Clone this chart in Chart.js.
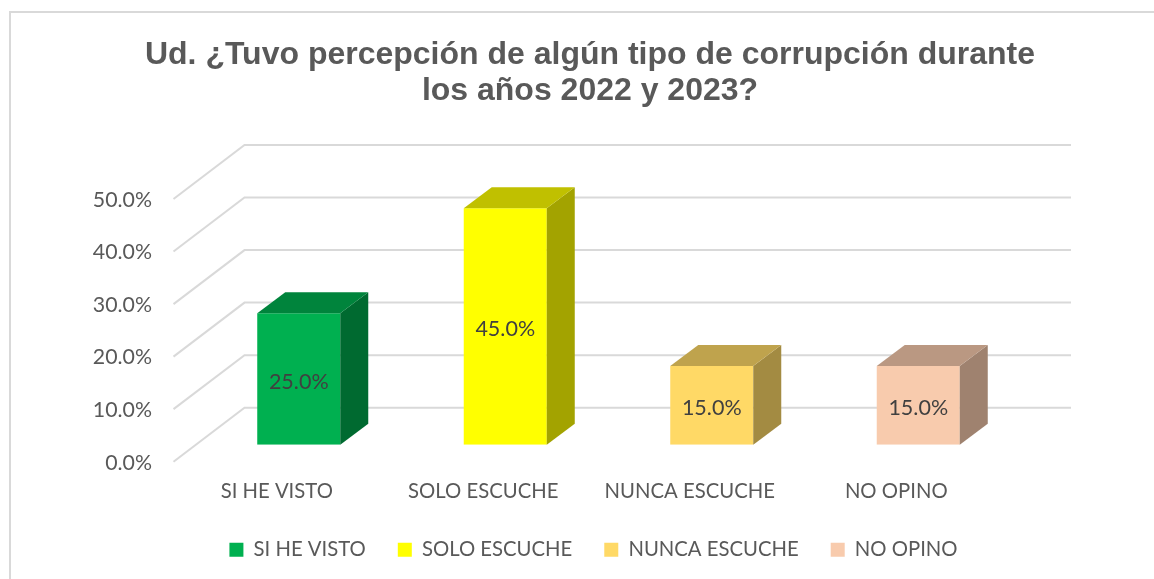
<!DOCTYPE html>
<html>
<head>
<meta charset="utf-8">
<title>Corrupción</title>
<script src="https://cdn.jsdelivr.net/npm/chart.js@4"></script>
<style>
  html, body { margin: 0; padding: 0; background: #fff; overflow: hidden; }
  #wrap { position: relative; width: 1154px; height: 579px; }
</style>
</head>
<body>
<div id="wrap"><canvas id="myChart" width="1154" height="579"></canvas></div>
<script>
const categories = ["SI HE VISTO", "SOLO ESCUCHE", "NUNCA ESCUCHE", "NO OPINO"];
const values = [25, 45, 15, 15];
const titleLines = ["Ud. ¿Tuvo percepción de algún tipo de corrupción durante", "los años 2022 y 2023?"];

const frontColors = ["#00B050", "#FFFF00", "#FFD966", "#F8CBAD"];
const topColors = ["#00843C", "#C0C000", "#BFA34D", "#BA9882"];
const sideColors = ["#006A30", "#A3A300", "#A38B42", "#9F826F"];

const textColor = "#595959";
const gridColor = "#D9D9D9";
const labelFont = "Lato";

// 3d look: the bars and the walls are only shifted copies of the real scale positions
const barDepthX = 28;
const barDepthY = 21;

const boxes3d = {
  id: "boxes3d",
  afterLayout(chart) {
    // legend sits a bit off the title centre in the original
    chart.legend.left += 3.5;
    chart.legend.right += 3.5;
    chart.legend.top += 5;
    chart.legend.bottom += 5;
  },
  beforeDraw(chart) {
    const { ctx } = chart;
    ctx.save();
    ctx.fillStyle = "#fff";
    ctx.fillRect(0, 0, chart.width, chart.height);
    // outer frame, only left and top are in the picture
    ctx.strokeStyle = gridColor;
    ctx.lineWidth = 2;
    ctx.beginPath();
    ctx.moveTo(10, chart.height);
    ctx.lineTo(10, 12);
    ctx.lineTo(chart.width, 12);
    ctx.stroke();
    ctx.restore();
  },
  beforeDatasetsDraw(chart) {
    const { ctx, scales } = chart;
    const left = scales.x.left;
    ctx.save();
    ctx.strokeStyle = gridColor;
    ctx.lineWidth = 2;
    scales.y.ticks.forEach((tick) => {
      const y = scales.y.getPixelForValue(tick.value);
      ctx.beginPath();
      ctx.moveTo(left - 22, y + 17);
      ctx.lineTo(left + 49, y - 37);
      ctx.lineTo(scales.x.right + 49.5, y - 37);
      ctx.stroke();
    });
    ctx.restore();
  },
  afterDatasetsDraw(chart) {
    const { ctx } = chart;
    const bars = chart.getDatasetMeta(0).data;
    ctx.save();
    bars.forEach((bar, i) => {
      const half = bar.width / 2;
      const l = bar.x - half;
      const r = bar.x + half;
      // side
      ctx.fillStyle = sideColors[i];
      ctx.beginPath();
      ctx.moveTo(r, bar.y);
      ctx.lineTo(r + barDepthX, bar.y - barDepthY);
      ctx.lineTo(r + barDepthX, bar.base - barDepthY);
      ctx.lineTo(r, bar.base);
      ctx.closePath();
      ctx.fill();
      // top
      ctx.fillStyle = topColors[i];
      ctx.beginPath();
      ctx.moveTo(l, bar.y);
      ctx.lineTo(l + barDepthX, bar.y - barDepthY);
      ctx.lineTo(r + barDepthX, bar.y - barDepthY);
      ctx.lineTo(r, bar.y);
      ctx.closePath();
      ctx.fill();
      // value label
      ctx.fillStyle = "#404040";
      ctx.font = "21.5px " + labelFont;
      ctx.textAlign = "center";
      ctx.textBaseline = "middle";
      ctx.fillText(values[i].toFixed(1) + "%", bar.x, (bar.y + bar.base) / 2 + 3);
    });
    ctx.restore();
  },
};

const ctx = document.getElementById("myChart");

new Chart(ctx, {
  type: "bar",
  data: {
    labels: categories,
    datasets: [
      {
        label: "Serie",
        data: values,
        backgroundColor: frontColors,
        borderWidth: 0,
        barPercentage: 0.402,
        categoryPercentage: 1,
      },
    ],
  },
  options: {
    responsive: false,
    animation: false,
    layout: { autoPadding: false, padding: { left: 26, right: 0, top: 0, bottom: 14 } },
    scales: {
      x: {
        grid: { display: false, drawTicks: false },
        border: { display: false },
        ticks: {
          color: textColor,
          font: { family: labelFont, size: 20.3 },
          padding: 35,
          labelOffset: -22,
          maxRotation: 0,
          autoSkip: false,
        },
        afterFit(scale) {
          scale.height = 58;
        },
      },
      y: {
        min: 0,
        max: 50,
        grid: { display: false, drawTicks: false },
        border: { display: false },
        ticks: {
          stepSize: 10,
          color: textColor,
          font: { family: labelFont, size: 21.3 },
          padding: 43.5,
          labelOffset: 18,
          callback: (v) => v.toFixed(1) + "%",
        },
        afterFit(scale) {
          scale.width = 169.5;
        },
      },
      // empty axis, only keeps the plot away from the right edge
      rightGap: {
        position: "right",
        grid: { display: false, drawTicks: false },
        border: { display: false },
        ticks: { display: false },
        afterFit(scale) {
          scale.width = 132.5;
        },
      },
    },
    plugins: {
      tooltip: { enabled: false },
      title: {
        display: true,
        text: titleLines,
        color: textColor,
        font: { family: "Liberation Sans", size: 32, weight: "bold", lineHeight: 1.125 },
        padding: { top: 37, bottom: 73 },
      },
      legend: {
        position: "bottom",
        labels: {
          boxWidth: 14,
          boxHeight: 14,
          padding: 32,
          color: textColor,
          font: { family: labelFont, size: 20.3 },
          generateLabels: () =>
            categories.map((c, i) => ({
              text: c,
              fillStyle: frontColors[i],
              strokeStyle: frontColors[i],
              lineWidth: 0,
              fontColor: textColor,
              index: i,
            })),
        },
      },
    },
  },
  plugins: [boxes3d],
});
</script>
</body>
</html>
